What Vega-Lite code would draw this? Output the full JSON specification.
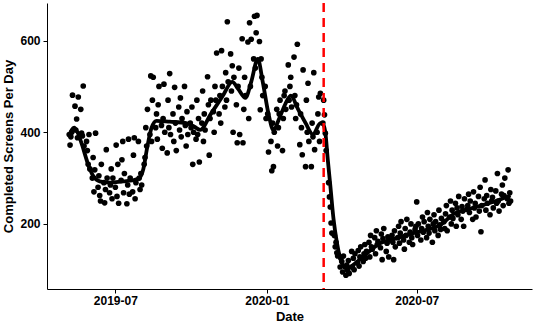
{
"$schema": "https://vega.github.io/schema/vega-lite/v6.json",
"width": 485, "height": 286,
"autosize": {"type": "none"},
"padding": {"left": 47, "top": 3, "right": 4, "bottom": 37},
"background": "white",
"config": {"view": {"stroke": null},
 "axis": {"grid": false, "domainColor": "black", "domainWidth": 1, "tickColor": "black", "tickWidth": 1, "tickSize": 4,
  "labelFont": "Liberation Sans", "labelFontWeight": "bold", "labelFontSize": 12, "labelColor": "black",
  "titleFont": "Liberation Sans", "titleFontSize": 13, "titleFontWeight": "bold", "titleColor": "black"}},
"datasets": {
"pts": [
{"d":"2019-05-06","v":395},{"d":"2019-05-07","v":372},{"d":"2019-05-08","v":390},{"d":"2019-05-09","v":400},{"d":"2019-05-10","v":481},{"d":"2019-05-13","v":457},{"d":"2019-05-14","v":405},{"d":"2019-05-15","v":429},{"d":"2019-05-16","v":388},{"d":"2019-05-17","v":477},{"d":"2019-05-20","v":450},{"d":"2019-05-21","v":398},{"d":"2019-05-22","v":392},{"d":"2019-05-23","v":501},{"d":"2019-05-24","v":370},{"d":"2019-05-27","v":380},{"d":"2019-05-28","v":360},{"d":"2019-05-29","v":330},{"d":"2019-05-30","v":395},{"d":"2019-05-31","v":320},
{"d":"2019-06-03","v":300},{"d":"2019-06-04","v":345},{"d":"2019-06-05","v":270},{"d":"2019-06-06","v":318},{"d":"2019-06-07","v":398},{"d":"2019-06-10","v":280},{"d":"2019-06-11","v":305},{"d":"2019-06-12","v":262},{"d":"2019-06-13","v":250},{"d":"2019-06-14","v":330},{"d":"2019-06-17","v":290},{"d":"2019-06-18","v":246},{"d":"2019-06-19","v":275},{"d":"2019-06-20","v":362},{"d":"2019-06-21","v":300},{"d":"2019-06-24","v":268},{"d":"2019-06-25","v":285},{"d":"2019-06-26","v":320},{"d":"2019-06-27","v":255},{"d":"2019-06-28","v":300},
{"d":"2019-07-01","v":280},{"d":"2019-07-02","v":372},{"d":"2019-07-03","v":260},{"d":"2019-07-04","v":330},{"d":"2019-07-05","v":245},{"d":"2019-07-08","v":295},{"d":"2019-07-09","v":340},{"d":"2019-07-10","v":380},{"d":"2019-07-11","v":268},{"d":"2019-07-12","v":310},{"d":"2019-07-15","v":244},{"d":"2019-07-16","v":285},{"d":"2019-07-17","v":385},{"d":"2019-07-18","v":265},{"d":"2019-07-19","v":300},{"d":"2019-07-22","v":270},{"d":"2019-07-23","v":350},{"d":"2019-07-24","v":388},{"d":"2019-07-25","v":255},{"d":"2019-07-26","v":290},{"d":"2019-07-29","v":380},{"d":"2019-07-30","v":300},{"d":"2019-07-31","v":275},
{"d":"2019-08-01","v":310},{"d":"2019-08-02","v":285},{"d":"2019-08-05","v":330},{"d":"2019-08-06","v":345},{"d":"2019-08-07","v":410},{"d":"2019-08-08","v":370},{"d":"2019-08-09","v":450},{"d":"2019-08-12","v":395},{"d":"2019-08-13","v":523},{"d":"2019-08-14","v":380},{"d":"2019-08-15","v":470},{"d":"2019-08-16","v":520},{"d":"2019-08-19","v":410},{"d":"2019-08-20","v":440},{"d":"2019-08-21","v":385},{"d":"2019-08-22","v":460},{"d":"2019-08-23","v":500},{"d":"2019-08-26","v":415},{"d":"2019-08-27","v":365},{"d":"2019-08-28","v":430},{"d":"2019-08-29","v":505},{"d":"2019-08-30","v":400},
{"d":"2019-09-02","v":355},{"d":"2019-09-03","v":470},{"d":"2019-09-04","v":410},{"d":"2019-09-05","v":528},{"d":"2019-09-06","v":395},{"d":"2019-09-09","v":440},{"d":"2019-09-10","v":380},{"d":"2019-09-11","v":498},{"d":"2019-09-12","v":420},{"d":"2019-09-13","v":360},{"d":"2019-09-16","v":455},{"d":"2019-09-17","v":405},{"d":"2019-09-18","v":475},{"d":"2019-09-19","v":390},{"d":"2019-09-20","v":430},{"d":"2019-09-23","v":500},{"d":"2019-09-24","v":415},{"d":"2019-09-25","v":370},{"d":"2019-09-26","v":445},{"d":"2019-09-27","v":395},{"d":"2019-09-30","v":420},
{"d":"2019-10-01","v":410},{"d":"2019-10-02","v":455},{"d":"2019-10-03","v":330},{"d":"2019-10-04","v":400},{"d":"2019-10-07","v":385},{"d":"2019-10-08","v":470},{"d":"2019-10-09","v":395},{"d":"2019-10-10","v":430},{"d":"2019-10-11","v":335},{"d":"2019-10-14","v":420},{"d":"2019-10-15","v":490},{"d":"2019-10-16","v":380},{"d":"2019-10-17","v":440},{"d":"2019-10-18","v":405},{"d":"2019-10-21","v":521},{"d":"2019-10-22","v":460},{"d":"2019-10-23","v":350},{"d":"2019-10-24","v":430},{"d":"2019-10-25","v":470},{"d":"2019-10-28","v":445},{"d":"2019-10-29","v":400},{"d":"2019-10-30","v":500},{"d":"2019-10-31","v":470},
{"d":"2019-11-01","v":573},{"d":"2019-11-04","v":440},{"d":"2019-11-05","v":480},{"d":"2019-11-06","v":420},{"d":"2019-11-07","v":578},{"d":"2019-11-08","v":500},{"d":"2019-11-11","v":455},{"d":"2019-11-12","v":530},{"d":"2019-11-13","v":470},{"d":"2019-11-14","v":641},{"d":"2019-11-15","v":510},{"d":"2019-11-18","v":571},{"d":"2019-11-19","v":490},{"d":"2019-11-20","v":545},{"d":"2019-11-21","v":400},{"d":"2019-11-22","v":520},{"d":"2019-11-25","v":460},{"d":"2019-11-26","v":377},{"d":"2019-11-27","v":500},{"d":"2019-11-28","v":540},{"d":"2019-11-29","v":395},
{"d":"2019-12-02","v":604},{"d":"2019-12-03","v":377},{"d":"2019-12-04","v":450},{"d":"2019-12-05","v":520},{"d":"2019-12-06","v":480},{"d":"2019-12-09","v":597},{"d":"2019-12-10","v":430},{"d":"2019-12-11","v":639},{"d":"2019-12-12","v":500},{"d":"2019-12-13","v":603},{"d":"2019-12-16","v":560},{"d":"2019-12-17","v":653},{"d":"2019-12-18","v":540},{"d":"2019-12-19","v":617},{"d":"2019-12-20","v":655},{"d":"2019-12-23","v":598},{"d":"2019-12-24","v":449},{"d":"2019-12-25","v":560},{"d":"2019-12-26","v":520},{"d":"2019-12-27","v":480},{"d":"2019-12-30","v":500},{"d":"2019-12-31","v":430},
{"d":"2020-01-02","v":440},{"d":"2020-01-03","v":357},{"d":"2020-01-06","v":380},{"d":"2020-01-07","v":316},{"d":"2020-01-08","v":420},{"d":"2020-01-09","v":325},{"d":"2020-01-10","v":400},{"d":"2020-01-13","v":450},{"d":"2020-01-14","v":370},{"d":"2020-01-15","v":410},{"d":"2020-01-16","v":440},{"d":"2020-01-17","v":470},{"d":"2020-01-20","v":360},{"d":"2020-01-21","v":430},{"d":"2020-01-22","v":480},{"d":"2020-01-23","v":490},{"d":"2020-01-24","v":450},{"d":"2020-01-27","v":547},{"d":"2020-01-28","v":470},{"d":"2020-01-29","v":500},{"d":"2020-01-30","v":520},{"d":"2020-01-31","v":455},
{"d":"2020-02-03","v":564},{"d":"2020-02-04","v":480},{"d":"2020-02-05","v":430},{"d":"2020-02-06","v":460},{"d":"2020-02-07","v":592},{"d":"2020-02-10","v":373},{"d":"2020-02-11","v":440},{"d":"2020-02-12","v":410},{"d":"2020-02-13","v":351},{"d":"2020-02-14","v":536},{"d":"2020-02-17","v":325},{"d":"2020-02-18","v":470},{"d":"2020-02-19","v":400},{"d":"2020-02-20","v":507},{"d":"2020-02-21","v":380},{"d":"2020-02-24","v":325},{"d":"2020-02-25","v":420},{"d":"2020-02-26","v":390},{"d":"2020-02-27","v":530},{"d":"2020-02-28","v":362},
{"d":"2020-03-02","v":400},{"d":"2020-03-03","v":440},{"d":"2020-03-04","v":477},{"d":"2020-03-05","v":380},{"d":"2020-03-06","v":485},{"d":"2020-03-09","v":420},{"d":"2020-03-10","v":470},{"d":"2020-03-11","v":438},{"d":"2020-03-12","v":398},{"d":"2020-03-13","v":360},{"d":"2020-03-16","v":290},{"d":"2020-03-17","v":259},{"d":"2020-03-18","v":237},{"d":"2020-03-19","v":202},{"d":"2020-03-20","v":180},{"d":"2020-03-23","v":175},{"d":"2020-03-24","v":150},{"d":"2020-03-25","v":160},{"d":"2020-03-26","v":137},{"d":"2020-03-27","v":130},{"d":"2020-03-30","v":106},{"d":"2020-03-31","v":125},
{"d":"2020-04-01","v":118},{"d":"2020-04-02","v":95},{"d":"2020-04-03","v":130},{"d":"2020-04-06","v":88},{"d":"2020-04-07","v":110},{"d":"2020-04-08","v":99},{"d":"2020-04-09","v":120},{"d":"2020-04-10","v":92},{"d":"2020-04-13","v":140},{"d":"2020-04-14","v":105},{"d":"2020-04-15","v":125},{"d":"2020-04-16","v":100},{"d":"2020-04-17","v":135},{"d":"2020-04-20","v":115},{"d":"2020-04-21","v":142},{"d":"2020-04-22","v":108},{"d":"2020-04-23","v":128},{"d":"2020-04-24","v":150},{"d":"2020-04-27","v":118},{"d":"2020-04-28","v":135},{"d":"2020-04-29","v":155},{"d":"2020-04-30","v":125},
{"d":"2020-05-01","v":140},{"d":"2020-05-04","v":160},{"d":"2020-05-05","v":128},{"d":"2020-05-06","v":175},{"d":"2020-05-07","v":150},{"d":"2020-05-08","v":145},{"d":"2020-05-11","v":170},{"d":"2020-05-12","v":135},{"d":"2020-05-13","v":185},{"d":"2020-05-14","v":155},{"d":"2020-05-15","v":162},{"d":"2020-05-18","v":148},{"d":"2020-05-19","v":178},{"d":"2020-05-20","v":122},{"d":"2020-05-21","v":168},{"d":"2020-05-22","v":190},{"d":"2020-05-25","v":140},{"d":"2020-05-26","v":158},{"d":"2020-05-27","v":172},{"d":"2020-05-28","v":128},{"d":"2020-05-29","v":165},
{"d":"2020-06-01","v":175},{"d":"2020-06-02","v":160},{"d":"2020-06-03","v":122},{"d":"2020-06-04","v":185},{"d":"2020-06-05","v":150},{"d":"2020-06-08","v":170},{"d":"2020-06-09","v":195},{"d":"2020-06-10","v":158},{"d":"2020-06-11","v":180},{"d":"2020-06-12","v":205},{"d":"2020-06-15","v":165},{"d":"2020-06-16","v":145},{"d":"2020-06-17","v":190},{"d":"2020-06-18","v":175},{"d":"2020-06-19","v":210},{"d":"2020-06-22","v":160},{"d":"2020-06-23","v":182},{"d":"2020-06-24","v":200},{"d":"2020-06-25","v":170},{"d":"2020-06-26","v":155},{"d":"2020-06-29","v":188},{"d":"2020-06-30","v":195},
{"d":"2020-07-01","v":248},{"d":"2020-07-02","v":175},{"d":"2020-07-03","v":200},{"d":"2020-07-06","v":165},{"d":"2020-07-07","v":190},{"d":"2020-07-08","v":215},{"d":"2020-07-09","v":182},{"d":"2020-07-10","v":205},{"d":"2020-07-13","v":170},{"d":"2020-07-14","v":225},{"d":"2020-07-15","v":195},{"d":"2020-07-16","v":180},{"d":"2020-07-17","v":210},{"d":"2020-07-20","v":160},{"d":"2020-07-21","v":200},{"d":"2020-07-22","v":220},{"d":"2020-07-23","v":185},{"d":"2020-07-24","v":205},{"d":"2020-07-27","v":175},{"d":"2020-07-28","v":230},{"d":"2020-07-29","v":198},{"d":"2020-07-30","v":188},{"d":"2020-07-31","v":212},
{"d":"2020-08-03","v":205},{"d":"2020-08-04","v":190},{"d":"2020-08-05","v":222},{"d":"2020-08-06","v":240},{"d":"2020-08-07","v":185},{"d":"2020-08-10","v":215},{"d":"2020-08-11","v":250},{"d":"2020-08-12","v":200},{"d":"2020-08-13","v":230},{"d":"2020-08-14","v":212},{"d":"2020-08-17","v":245},{"d":"2020-08-18","v":195},{"d":"2020-08-19","v":235},{"d":"2020-08-20","v":220},{"d":"2020-08-21","v":260},{"d":"2020-08-24","v":210},{"d":"2020-08-25","v":238},{"d":"2020-08-26","v":228},{"d":"2020-08-27","v":195},{"d":"2020-08-28","v":255},{"d":"2020-08-31","v":232},
{"d":"2020-09-01","v":240},{"d":"2020-09-02","v":265},{"d":"2020-09-03","v":225},{"d":"2020-09-04","v":250},{"d":"2020-09-07","v":210},{"d":"2020-09-08","v":270},{"d":"2020-09-09","v":235},{"d":"2020-09-10","v":245},{"d":"2020-09-11","v":215},{"d":"2020-09-14","v":260},{"d":"2020-09-15","v":228},{"d":"2020-09-16","v":280},{"d":"2020-09-17","v":183},{"d":"2020-09-18","v":240},{"d":"2020-09-21","v":255},{"d":"2020-09-22","v":296},{"d":"2020-09-23","v":230},{"d":"2020-09-24","v":262},{"d":"2020-09-25","v":245},{"d":"2020-09-28","v":220},{"d":"2020-09-29","v":275},{"d":"2020-09-30","v":250},
{"d":"2020-10-01","v":258},{"d":"2020-10-02","v":235},{"d":"2020-10-05","v":272},{"d":"2020-10-06","v":245},{"d":"2020-10-07","v":310},{"d":"2020-10-08","v":250},{"d":"2020-10-09","v":228},{"d":"2020-10-12","v":265},{"d":"2020-10-13","v":285},{"d":"2020-10-14","v":240},{"d":"2020-10-15","v":262},{"d":"2020-10-16","v":300},{"d":"2020-10-19","v":255},{"d":"2020-10-20","v":318},{"d":"2020-10-21","v":245},{"d":"2020-10-22","v":268},{"d":"2020-10-23","v":250}
],
"smooth": [
{"d":"2019-05-06","v":392},{"d":"2019-05-09","v":405},{"d":"2019-05-12","v":410},{"d":"2019-05-16","v":400},{"d":"2019-05-22","v":370},{"d":"2019-05-28","v":335},{"d":"2019-06-04","v":305},{"d":"2019-06-12","v":293},{"d":"2019-06-25","v":290},{"d":"2019-07-10","v":293},{"d":"2019-07-22","v":295},{"d":"2019-07-30","v":300},{"d":"2019-08-04","v":320},{"d":"2019-08-09","v":370},{"d":"2019-08-14","v":410},{"d":"2019-08-20","v":425},{"d":"2019-09-05","v":423},{"d":"2019-09-25","v":420},{"d":"2019-10-05","v":412},{"d":"2019-10-12","v":405},{"d":"2019-10-25","v":440},{"d":"2019-11-08","v":478},{"d":"2019-11-20","v":510},{"d":"2019-11-27","v":495},{"d":"2019-12-06","v":475},{"d":"2019-12-13","v":510},{"d":"2019-12-21","v":560},{"d":"2019-12-27","v":510},{"d":"2020-01-03","v":440},{"d":"2020-01-09","v":405},{"d":"2020-01-16","v":430},{"d":"2020-01-23","v":460},{"d":"2020-01-30","v":480},{"d":"2020-02-08","v":450},{"d":"2020-02-17","v":420},{"d":"2020-02-26","v":395},{"d":"2020-03-06","v":420},{"d":"2020-03-09","v":418},{"d":"2020-03-12","v":400},{"d":"2020-03-15","v":340},{"d":"2020-03-18","v":285},{"d":"2020-03-22","v":210},{"d":"2020-03-26","v":160},{"d":"2020-03-31","v":120},{"d":"2020-04-06","v":103},{"d":"2020-04-12","v":107},{"d":"2020-04-20","v":118},{"d":"2020-05-01","v":135},{"d":"2020-05-18","v":158},{"d":"2020-06-05","v":168},{"d":"2020-06-27","v":180},{"d":"2020-07-15","v":188},{"d":"2020-07-30","v":198},{"d":"2020-08-15","v":222},{"d":"2020-09-01","v":232},{"d":"2020-09-17","v":240},{"d":"2020-10-05","v":250},{"d":"2020-10-23","v":262}
],
"event": [{"d":"2020-03-10"}]
},
"layer": [
{"data": {"name": "pts"},
 "mark": {"type": "circle", "size": 32, "color": "black", "opacity": 1},
 "encoding": {
  "x": {"field": "d", "type": "temporal", "title": "Date",
   "scale": {"type": "utc", "domain": [{"year": 2019, "month": 4, "date": 9, "utc": true}, {"year": 2020, "month": 11, "date": 18, "utc": true}]},
   "axis": {"labelExpr": "utcFormat(datum.value, '%Y-%m')", "labelPadding": 2, "titlePadding": 4,
    "values": [{"year": 2019, "month": 7, "date": 1, "utc": true}, {"year": 2020, "month": 1, "date": 1, "utc": true}, {"year": 2020, "month": 7, "date": 1, "utc": true}]}},
  "y": {"field": "v", "type": "quantitative", "title": "Completed Screens Per Day",
   "scale": {"domain": [58, 682], "nice": false, "zero": false},
   "axis": {"values": [200, 400, 600], "labelPadding": 3, "titlePadding": 4}}}},
{"data": {"name": "smooth"},
 "mark": {"type": "line", "color": "black", "strokeWidth": 3.8, "interpolate": "monotone"},
 "encoding": {
  "x": {"field": "d", "type": "temporal"},
  "y": {"field": "v", "type": "quantitative"}}},
{"data": {"name": "event"},
 "mark": {"type": "rule", "color": "#ff0000", "strokeWidth": 2.5, "strokeDash": [9, 6]},
 "encoding": {
  "x": {"field": "d", "type": "temporal"}}}
]
}
